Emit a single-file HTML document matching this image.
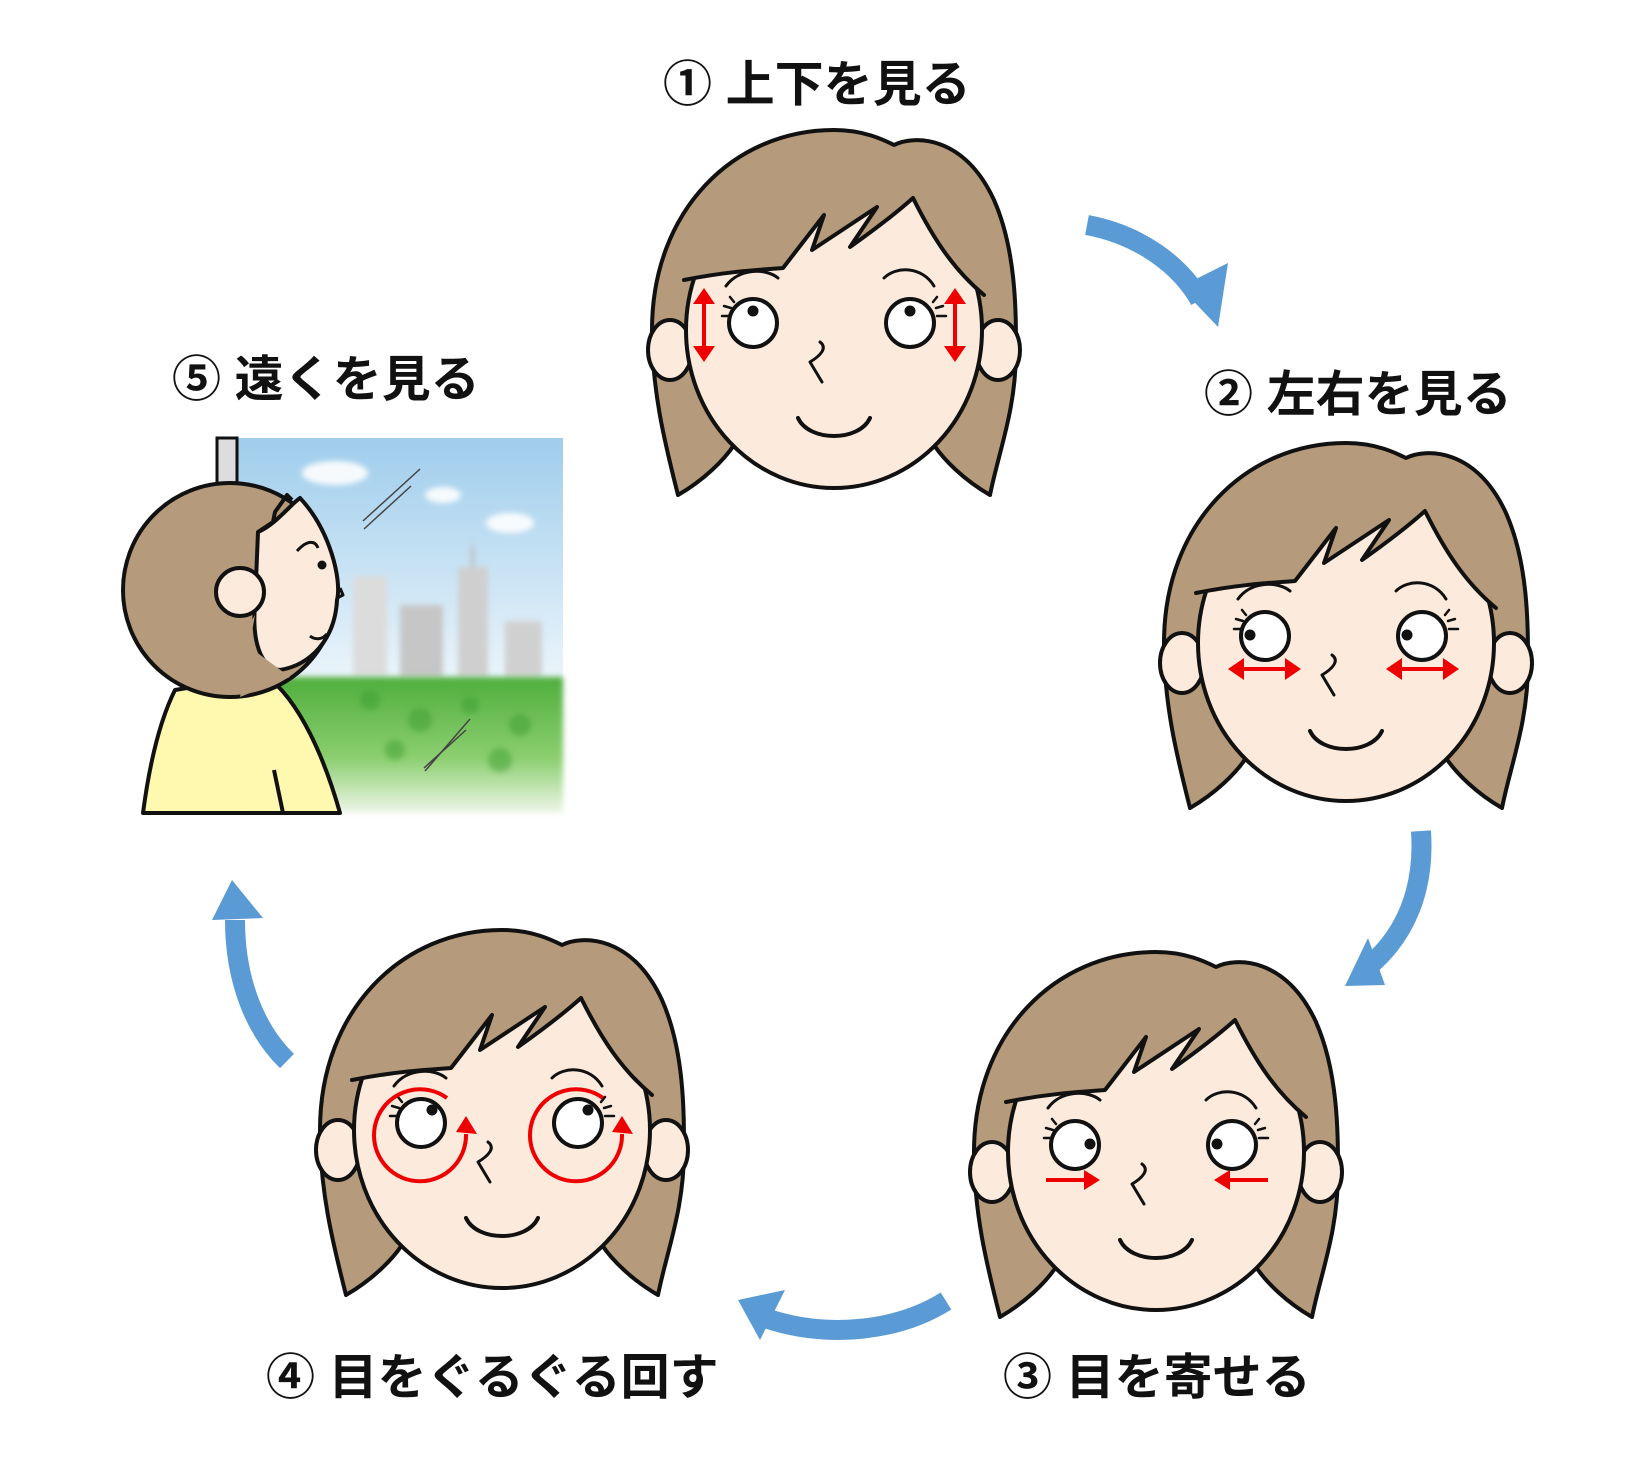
<!DOCTYPE html>
<html><head><meta charset="utf-8"><style>
html,body{margin:0;padding:0;background:#fff;}
svg{display:block;}
text{font-family:"Liberation Sans","Noto Sans CJK JP",sans-serif;font-weight:bold;font-size:49px;fill:#111;}
</style></head><body>
<svg width="1630" height="1458" viewBox="0 0 1630 1458" xmlns="http://www.w3.org/2000/svg">
<defs>
<clipPath id="sk"><ellipse cx="0" cy="0" rx="152" ry="161"/></clipPath>
<g id="base" stroke="#111" stroke-width="4" stroke-linejoin="round" stroke-linecap="round">
  <path fill="#b59a7b" d="M -156,165 C -170,110 -182,60 -182,0 C -182,-120 -100,-200 0,-200 C 30,-200 50,-190 60,-185 C 80,-195 130,-195 160,-130 C 182,-80 182,-20 182,20 C 182,80 165,120 156,165 C 130,150 110,130 100,115 L -100,115 C -110,130 -130,150 -156,165 Z"/>
  <ellipse cx="-164" cy="20" rx="22" ry="30" fill="#fcebdd"/>
  <ellipse cx="164" cy="20" rx="22" ry="30" fill="#fcebdd"/>
  <ellipse cx="0" cy="0" rx="148" ry="158" fill="#fcebdd"/>
  <path clip-path="url(#sk)" fill="#b59a7b" stroke="none" d="M -149,-50 C -110,-58 -80,-60 -51,-62 L -10,-115 L -22,-80 L 43,-123 L 16,-83 C 40,-100 60,-115 79,-132 C 100,-90 120,-60 149,-37 L 200,-37 L 200,-220 L -200,-220 L -200,-50 Z"/>
  <path fill="none" d="M -150,-50 C -110,-58 -80,-60 -51,-62 L -10,-115 L -22,-80 L 43,-123 L 16,-83 C 40,-100 60,-115 79,-132 C 100,-90 120,-60 150,-35"/>
  <path fill="none" stroke-width="3" d="M -108,-44 C -95,-62 -68,-62 -56,-52 M 50,-52 C 62,-64 88,-64 100,-44"/>
  <path fill="none" stroke-width="3" d="M -14,12 C -6,18 -14,26 -24,32 L -12,52"/>
  <path fill="none" d="M -36,88 C -25,112 25,112 36,88"/>
  <path fill="none" stroke-width="2.5" d="M -103,-22 L -110,-24 M -103,-14 L -112,-14 M -100,-28 L -104,-33 M 102,-22 L 109,-24 M 103,-14 L 112,-14 M 99,-28 L 103,-33"/>
  <circle cx="-81" cy="-7" r="24" fill="#fff"/>
  <circle cx="76" cy="-7" r="24" fill="#fff"/>
</g>
</defs>

<!-- Face 1 -->
<g transform="translate(834,330)">
  <use href="#base"/>
  <circle cx="-81" cy="-19" r="5.5" fill="#111"/><circle cx="76" cy="-19" r="5.5" fill="#111"/>
  <g fill="#e00" stroke="#e00" stroke-width="4">
    <line x1="-130" y1="-30" x2="-130" y2="20"/>
    <path stroke="none" d="M -141,-26 L -130,-42 L -119,-26 Z M -141,16 L -130,32 L -119,16 Z"/>
    <line x1="121" y1="-30" x2="121" y2="20"/>
    <path stroke="none" d="M 110,-26 L 121,-42 L 132,-26 Z M 110,16 L 121,32 L 132,16 Z"/>
  </g>
</g>
<!-- Face 2 -->
<g transform="translate(1346,643)">
  <use href="#base"/>
  <circle cx="-96" cy="-8" r="5.5" fill="#111"/><circle cx="61" cy="-8" r="5.5" fill="#111"/>
  <g fill="#e00" stroke="#e00" stroke-width="4">
    <line x1="-105" y1="26" x2="-58" y2="26"/>
    <path stroke="none" d="M -102,15 L -118,26 L -102,37 Z M -61,15 L -45,26 L -61,37 Z"/>
    <line x1="53" y1="26" x2="100" y2="26"/>
    <path stroke="none" d="M 56,15 L 40,26 L 56,37 Z M 97,15 L 113,26 L 97,37 Z"/>
  </g>
</g>
<!-- Face 3 -->
<g transform="translate(1156,1152)">
  <use href="#base"/>
  <circle cx="-66" cy="-8" r="5.5" fill="#111"/><circle cx="61" cy="-8" r="5.5" fill="#111"/>
  <g fill="#e00" stroke="#e00" stroke-width="4">
    <line x1="-110" y1="28" x2="-70" y2="28"/>
    <path stroke="none" d="M -72,18 L -56,28 L -72,38 Z"/>
    <line x1="72" y1="28" x2="112" y2="28"/>
    <path stroke="none" d="M 74,18 L 58,28 L 74,38 Z"/>
  </g>
</g>
<!-- Face 4 -->
<g transform="translate(502,1130)">
  <use href="#base"/>
  <circle cx="-70" cy="-20" r="5.5" fill="#111"/><circle cx="86" cy="-20" r="5.5" fill="#111"/>
  <g fill="none" stroke="#e00" stroke-width="4">
    <path d="M -55,-32 A 46 46 0 1 0 -36,4"/>
    <path d="M 101,-32 A 46 46 0 1 0 120,4"/>
  </g>
  <path fill="#e00" d="M -46,2 L -36,-14 L -25,4 Z M 110,2 L 120,-14 L 131,4 Z"/>
</g>

<!-- Window scene -->
<defs>
<linearGradient id="sky" x1="0" y1="0" x2="0" y2="1">
<stop offset="0" stop-color="#9fcdec"/><stop offset="0.6" stop-color="#e6f2fa"/><stop offset="1" stop-color="#ffffff"/></linearGradient>
<linearGradient id="tree" x1="0" y1="0" x2="0" y2="1">
<stop offset="0" stop-color="#4fae3c"/><stop offset="0.6" stop-color="#8ccf70"/><stop offset="1" stop-color="#eef6e8"/></linearGradient>
<filter id="bl"><feGaussianBlur stdDeviation="3"/></filter>
</defs>
<rect x="237" y="438" width="326" height="375" fill="url(#sky)"/>
<g fill="#fff" opacity="0.9" filter="url(#bl)">
<ellipse cx="335" cy="473" rx="33" ry="12"/><ellipse cx="443" cy="495" rx="18" ry="8"/><ellipse cx="510" cy="523" rx="24" ry="10"/>
</g>
<g filter="url(#bl)">
<rect x="353" y="576" width="34" height="100" fill="#dcdcdc"/>
<rect x="400" y="605" width="43" height="72" fill="#c6c6c6"/>
<rect x="458" y="567" width="30" height="110" fill="#cfcfcf"/><rect x="471" y="545" width="3" height="22" fill="#bbb"/>
<rect x="505" y="621" width="37" height="56" fill="#d0d0d0"/>
</g>
<rect x="237" y="677" width="326" height="136" fill="url(#tree)" filter="url(#bl)"/>
<g fill="#3e9e32" opacity="0.5" filter="url(#bl)">
<circle cx="370" cy="700" r="10"/><circle cx="420" cy="720" r="12"/><circle cx="470" cy="705" r="9"/><circle cx="520" cy="725" r="11"/><circle cx="395" cy="750" r="10"/><circle cx="500" cy="760" r="12"/>
</g>
<g stroke="#444" stroke-width="1.5">
<line x1="363" y1="521" x2="420" y2="469"/><line x1="364" y1="529" x2="411" y2="486"/>
<line x1="425" y1="771" x2="470" y2="719"/><line x1="424" y1="768" x2="466" y2="730"/>
</g>
<rect x="217" y="438" width="20" height="50" fill="#ddd" stroke="#111" stroke-width="3"/>
<!-- person -->
<g stroke="#111" stroke-width="4" stroke-linejoin="round">
<path fill="#fff9b0" d="M 143,813 C 150,760 160,720 175,690 L 265,675 C 300,700 325,760 340,813 Z"/>
<path fill="none" d="M 274,770 L 283,813"/>
<circle cx="230" cy="590" r="107" fill="#b59a7b"/>
<path fill="#fcebdd" d="M 258,532 C 275,525 290,505 300,498 C 330,530 342,580 337,600 C 335,640 310,665 280,670 C 260,668 252,640 255,605 Z"/>
<path fill="#b59a7b" stroke="none" d="M 255,615 L 240,640 L 290,677 L 240,697 Z"/>
<path fill="none" d="M 258,532 L 273,522 L 275,512 L 287,495 L 292,500"/>
<circle cx="240" cy="592" r="24" fill="#fcebdd"/>
<path fill="none" stroke-width="3" d="M 297,551 C 307,540 315,540 318,548 M 310,636 C 315,640 322,640 327,634 M 340,588 L 343,595 L 337,598"/>
</g>
<circle cx="322" cy="565" r="4.5" fill="#111"/>

<!-- arrows -->
<g fill="none" stroke="#5b9bd5" stroke-width="20">
<path d="M 1087,225 C 1140,235 1180,265 1200,300"/>
<path d="M 1421,831 C 1425,890 1405,935 1370,965"/>
<path d="M 946,1301 C 900,1330 830,1340 765,1318"/>
<path d="M 287,1061 C 255,1030 235,980 235,920"/>
</g>
<g fill="#5b9bd5">
<path d="M 1180,287 L 1228,263 L 1218,327 Z"/>
<path d="M 1385,985 L 1345,986 L 1368,938 Z"/>
<path d="M 785,1290 L 738,1300 L 760,1340 Z"/>
<path d="M 212,920 L 232,880 L 263,918 Z"/>
</g>

<!-- labels -->
<text x="663" y="101">① 上下を見る</text>
<text x="1204" y="411">② 左右を見る</text>
<text x="1003" y="1394">③ 目を寄せる</text>
<text x="266" y="1394">④ 目をぐるぐる回す</text>
<text x="172" y="396">⑤ 遠くを見る</text>
</svg>
</body></html>
